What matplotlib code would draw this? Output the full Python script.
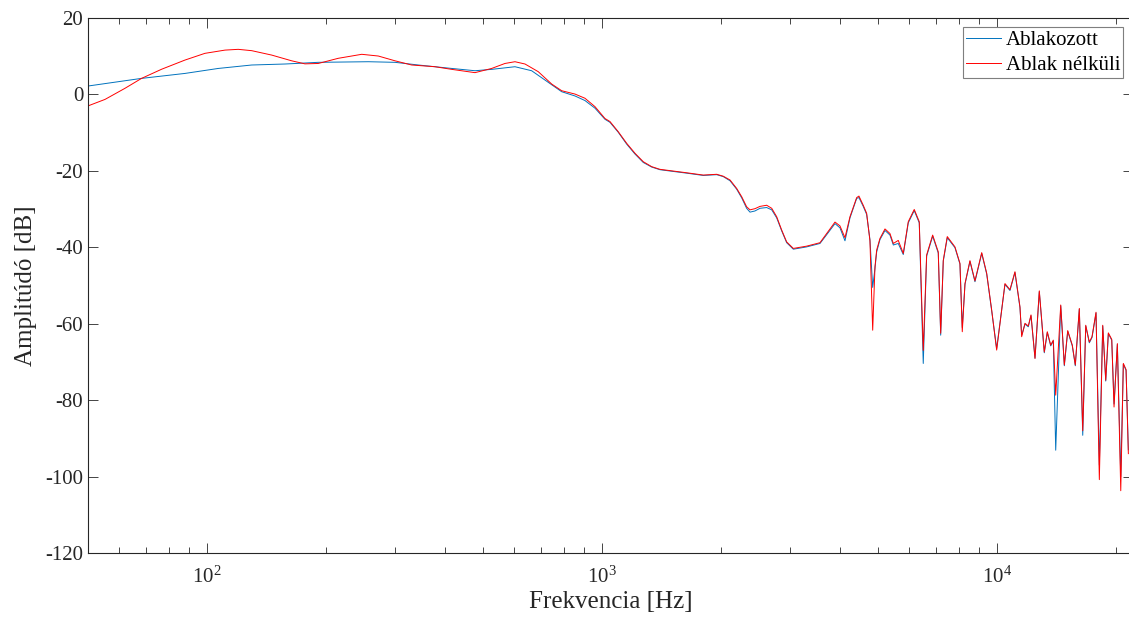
#!/usr/bin/python

from matplotlib import pyplot as plt

# low end: the two spectra differ, so each has its own points
freq_lo_red = [50, 55.2, 62.0, 68.3, 76.8, 88.0, 98.8, 111.1, 120.0, 129.8,
               145.8, 163.8, 177.0, 191.3, 214.9, 246.5, 271.5, 299.2, 329.8, 377.7,
               416.5, 477.0, 525.7, 568.0, 602.2, 638.5, 689.8, 745.9, 790.7, 854.3,
               905.6, 960.1, 1017.6]
db_lo_red = [-3.0, -1.3, 1.6, 4.2, 6.6, 9.0, 10.75, 11.6, 11.8, 11.45,
             10.3, 8.8, 8.0, 8.1, 9.45, 10.5, 10.05, 8.8, 7.7, 7.25,
             6.56, 5.7, 6.8, 8.1, 8.56, 7.96, 5.95, 2.72, 0.97, 0.1,
             -1.0, -3.2, -6.3]

freq_lo_blue = [50, 68.3, 88.0, 106.8, 129.8, 157.6, 191.3, 256.2, 299.2, 342.8,
                416.5, 477.0, 525.7, 602.2, 663.7, 717.2, 790.7, 854.3, 905.6, 960.1,
                1017.6]
db_lo_blue = [2.2, 4.2, 5.5, 6.8, 7.7, 7.96, 8.4, 8.56, 8.4, 7.7,
              6.8, 6.2, 6.56, 7.25, 6.2, 3.77, 0.71, -0.4, -1.6, -3.6,
              -6.5]

# above ~1 kHz both follow the same frequencies, mostly the notch depths differ
freq_hi = [1047.8, 1099.6, 1155, 1212.3, 1272, 1336, 1402, 1515, 1638, 1805,
           1952, 2028, 2110, 2193, 2259, 2324, 2370, 2439, 2512, 2612,
           2690, 2769, 2851, 2935, 3051, 3297, 3564, 3706, 3890, 4004,
           4123, 4245, 4414, 4473, 4586, 4678, 4769, 4846, 4911, 4960,
           5055, 5206, 5359, 5465, 5625, 5792, 5963, 6174, 6357, 6507,
           6637, 6874, 7102, 7203, 7313, 7485, 7828, 8059, 8169, 8299,
           8543, 8796, 9149, 9419, 9696, 9982, 10478, 10787, 11106, 11435,
           11549, 11774, 12003, 12195, 12482, 12799, 13177, 13410, 13678, 13888,
           14084, 14502, 14809, 15105, 15514, 15788, 16162, 16487, 16778, 17133,
           17404, 17814, 18162, 18525, 18852, 19141, 19524, 19787, 20174, 20578,
           20889, 21224, 21509]
db_hi_red = [-7.1, -9.76, -12.8, -15.4, -17.6, -18.9, -19.6, -20.05, -20.5, -21.1,
             -20.9, -21.4, -22.4, -24.6, -26.8, -29.4, -30.2, -29.9, -29.3, -29.0,
             -29.8, -32.0, -35.5, -38.6, -40.3, -39.7, -38.8, -36.4, -33.4, -34.4,
             -37.5, -32.0, -27.0, -26.6, -29.0, -31.1, -38.3, -61.7, -45.1, -40.7,
             -37.7, -35.2, -36.4, -39.0, -38.2, -41.6, -33.3, -30.1, -33.3, -67.0,
             -42.0, -36.8, -41.2, -62.5, -43.4, -37.2, -39.9, -44.2, -62.1, -49.5,
             -43.5, -48.8, -41.4, -46.8, -56.4, -66.9, -49.5, -51.1, -46.4, -55.6,
             -63.4, -59.9, -60.6, -57.7, -69.1, -51.4, -67.4, -62.1, -65.6, -64.3,
             -78.7, -55.1, -70.8, -61.8, -65.6, -70.8, -56.0, -88.0, -60.4, -64.8,
             -63.4, -57.0, -100.8, -60.4, -74.8, -62.4, -64.1, -81.8, -65.2, -103.7,
             -70.4, -72.0, -94.0]
db_hi_blue = [-7.3, -9.9, -13.0, -15.6, -17.8, -19.0, -19.7, -20.15, -20.6, -21.2,
              -21.0, -21.5, -22.6, -24.8, -27.1, -29.8, -30.8, -30.5, -29.8, -29.6,
              -30.2, -32.3, -35.7, -38.8, -40.5, -39.9, -39.0, -36.7, -33.8, -34.9,
              -38.3, -32.3, -27.2, -27.0, -29.3, -31.4, -38.0, -50.5, -45.5, -41.2,
              -38.0, -35.6, -36.8, -39.4, -39.0, -41.9, -33.6, -30.4, -33.6, -70.4,
              -42.3, -37.1, -41.5, -63.0, -43.6, -37.5, -40.1, -44.4, -61.0, -49.7,
              -43.7, -49.0, -41.6, -47.0, -56.6, -66.5, -49.7, -51.3, -46.6, -55.8,
              -63.0, -60.1, -60.8, -57.9, -69.0, -51.6, -67.6, -62.3, -65.8, -64.5,
              -93.1, -55.3, -71.0, -62.0, -65.8, -71.0, -56.2, -89.2, -60.6, -65.0,
              -63.6, -57.2, -97.0, -60.6, -75.0, -62.6, -64.3, -81.0, -65.4, -100.0,
              -70.6, -72.2, -93.0]

y_ticks = [-120, -100, -80, -60, -40, -20, 0, 20]


def main():
    plt.rcParams['font.family'] = ['Liberation Serif', 'DejaVu Serif']
    plt.rcParams['mathtext.fontset'] = 'stix'
    plt.rcParams['axes.unicode_minus'] = False

    fig = plt.figure(figsize=(11.29, 6.25), dpi=100)
    ax = fig.add_axes([0.078, 0.1152, 0.9252, 0.856])

    ax.semilogx(freq_lo_blue + freq_hi, db_lo_blue + db_hi_blue,
                color='#0072BD', lw=0.7, label='Ablakozott')
    ax.semilogx(freq_lo_red + freq_hi, db_lo_red + db_hi_red,
                color='#FF0000', lw=0.7, label='Ablak nélküli')

    ax.set_xlim(50, 22050)
    ax.set_ylim(-120, 20)
    ax.set_yticks(y_ticks)

    dark = '#262626'
    for s in ax.spines.values():
        s.set_color(dark)
        s.set_linewidth(0.8)
    ax.tick_params(which='both', direction='in', top=True, right=True,
                   colors=dark, labelsize=15)
    ax.tick_params(which='major', length=7, width=0.6)
    ax.tick_params(which='minor', length=4, width=0.6)
    ax.tick_params(axis='x', pad=10)

    ax.set_xlabel('Frekvencia [Hz]', fontsize=18, color=dark, labelpad=2)
    ax.set_ylabel('Amplitúdó [dB]', fontsize=18, color=dark, labelpad=6)

    leg = ax.legend(loc='upper right', fontsize=15, fancybox=False,
                    framealpha=1, edgecolor='#7f7f7f', borderpad=0.15,
                    labelspacing=0.25, handlelength=1.7, handletextpad=0.2,
                    borderaxespad=0.45)
    leg.get_frame().set_linewidth(0.8)

    plt.savefig('out.png', dpi=100)


if __name__ == "__main__":
    main()
